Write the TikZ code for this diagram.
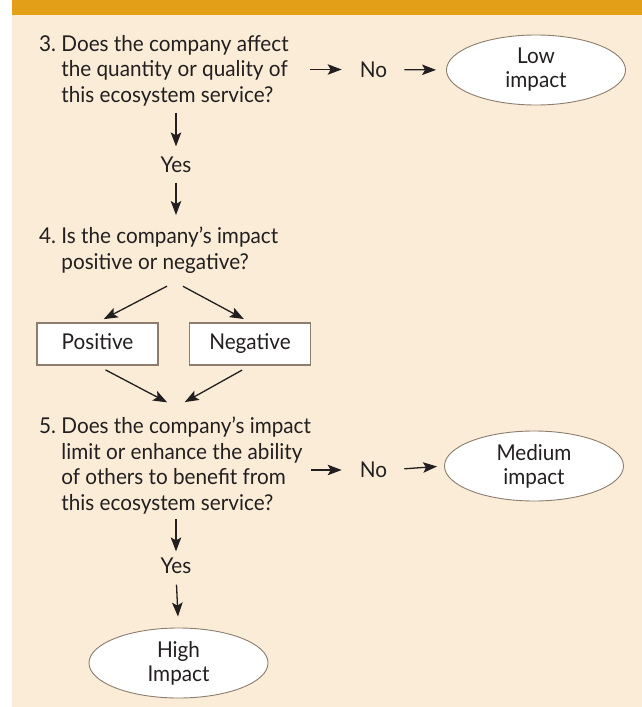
\documentclass[tikz,border=0pt]{standalone}
\usepackage{fontspec}
\setmainfont[FakeStretch=0.95]{Lato}
\usetikzlibrary{shapes.geometric,arrows.meta}

\definecolor{bandorange}{RGB}{228,159,25}
\definecolor{panelcream}{RGB}{250,236,215}
\definecolor{edgebrown}{RGB}{140,125,110}
\definecolor{ink}{RGB}{35,31,32}

\newcommand{\qfont}{\fontsize{21.8}{25.5}\selectfont}
\newcommand{\ofont}{\fontsize{21.8}{24}\selectfont}

\tikzset{
    question/.style={anchor=north west, inner sep=0pt, align=left, font=\qfont, text=ink},
    answer/.style={inner sep=0pt, font=\qfont, text=ink},
    outcome/.style={ellipse, draw=edgebrown, fill=white, line width=0.9pt, minimum width=179pt, minimum height=70pt, inner sep=0pt, align=center, font=\ofont, text=ink},
    choice/.style={rectangle, draw=edgebrown, fill=white, line width=1.3pt, minimum width=121pt, minimum height=42pt, inner sep=0pt, text height=15.5pt, text depth=4.5pt, font=\qfont, text=ink},
    flow/.style={-{Stealth[length=14pt,width=10.5pt,inset=3pt]}, line width=1.3pt, draw=ink}
}

\begin{document}
\begin{tikzpicture}[x=1pt, y=-1pt]

    \useasboundingbox (0,0) rectangle (642,707);
    \fill[panelcream] (12,15) rectangle (642,707);
    \fill[bandorange] (12,0) rectangle (642,15);

    % step 3
    \node[question] (q3) at (39,35) {3.~Does the company affect\\\phantom{3.}~the quantity or quality of\\\phantom{3.}~this ecosystem service?};

    \node[answer] (no1) at (373.5,69.5) {No};

    \node[outcome] (low) at (536,70) {Low\\impact};

    \node[answer] (yes1) at (176,165) {Yes};

    % step 4
    \node[question] (q4) at (39,227) {4.~Is the company's impact\\\phantom{4.}~positive or negative?};

    \coordinate (fork) at (175,282);

    \node[choice] (pos) at (97.5,344) {Positive};

    \node[choice] (neg) at (250,344) {Negative};

    \coordinate (join) at (176,407);

    % step 5
    \node[question] (q5) at (39,417) {5.~Does the company's impact\\\phantom{5.}~limit or enhance the ability\\\phantom{5.}~of others to benefit from\\\phantom{5.}~this ecosystem service?};

    \node[answer] (no2) at (373.5,470) {No};

    \node[outcome] (medium) at (534,466) {Medium\\impact};

    \node[answer] (yes2) at (176,565.5) {Yes};

    \node[outcome] (high) at (178.5,663) {High\\Impact};


    \draw[flow, shorten <=21pt, shorten >=18pt] (q3.east |- no1) -- (no1.west);

    \draw[flow, shorten <=17pt, shorten >=10pt] (no1.east) -- (low.west);

    \draw[flow, shorten <=6.5pt, shorten >=10.5pt] (q3.south -| yes1) -- (yes1.north);

    \draw[flow, shorten <=9.5pt, shorten >=12pt] (yes1.south) -- (q4.north -| yes1);

    \draw[flow, shorten <=9pt, shorten >=7pt] (fork) -- (pos.north);

    \draw[flow, shorten <=9pt, shorten >=7pt] (fork) -- (neg.north);

    \draw[flow, shorten <=9pt, shorten >=10pt] (pos.south) -- (join);

    \draw[flow, shorten <=9pt, shorten >=10pt] (neg.south) -- (join);

    \draw[flow, shorten >=18pt] (q5.east |- no2) -- (no2.west);

    \draw[flow, shorten <=17pt, shorten >=7pt] (no2.east) -- (medium.west);

    \draw[flow, shorten <=4.5pt, shorten >=6pt] (q5.south -| yes2) -- (yes2.north);

    \draw[flow, shorten <=11pt, shorten >=11pt] (yes2.south) -- (high.north);

\end{tikzpicture}
\end{document}
